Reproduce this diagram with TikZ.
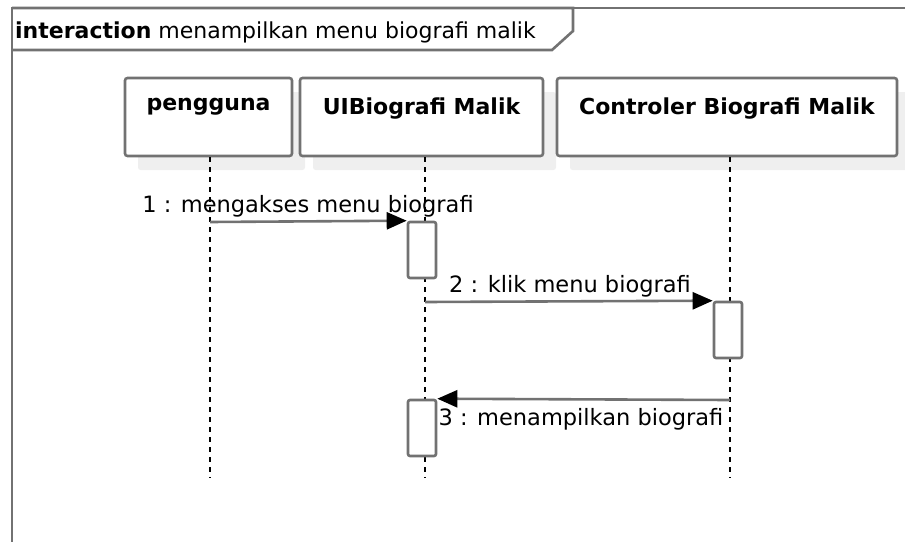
\documentclass[tikz,border=0pt]{standalone}
\usepackage{fontspec}
\setmainfont{DejaVu Sans}
\usetikzlibrary{arrows.meta,shadows}
\definecolor{lineg}{HTML}{727272}
\definecolor{shadowg}{HTML}{EFEFEF}
\tikzset{
  framel/.style={draw=lineg, line width=2.6pt},
  headbox/.style={draw=lineg, line width=2.6pt, fill=white, rounded corners=2.5pt,
    inner sep=0pt, drop shadow={shadow xshift=13pt, shadow yshift=-14pt, fill=shadowg, opacity=1}},
  headtext/.style={font=\fontsize{22}{26}\selectfont\bfseries, anchor=north, inner sep=0pt},
  lifeline/.style={draw=black, line width=1.8pt, dash pattern=on 5pt off 5pt},
  actbox/.style={draw=lineg, line width=2.6pt, fill=white, rounded corners=2pt,
    minimum width=28pt, minimum height=56pt, inner sep=0pt},
  msg/.style={draw=lineg, line width=2.6pt, -{Triangle[length=20pt,width=17pt,color=black]}},
  msgtext/.style={font=\fontsize{22.5}{26}\selectfont, inner sep=0pt},
}
\begin{document}
\begin{tikzpicture}[x=1pt,y=-1pt]
\useasboundingbox (0,0) rectangle (905,541);
% frame
\draw[framel] (12,545) -- (12,8) -- (910,8);
\draw[framel] (12,8) -- (573,8) -- (573,31) -- (552,50) -- (12,50);
\node[anchor=base west, inner sep=0pt, font=\fontsize{22}{26}\selectfont] (title) at (15,38)
  {\textbf{interaction} menampilkan menu biografi malik};
% lifeline heads
\node[headbox, minimum width=167pt, minimum height=78pt] (pg) at (208.5,117) {};
\node[headbox, minimum width=243pt, minimum height=78pt] (ui) at (421.5,117) {};
\node[headbox, minimum width=340pt, minimum height=78pt] (ct) at (727,117) {};
\node[headtext] (pgt) at ([yshift=-21pt]pg.north) {pengguna};
\node[headtext] (uit) at ([yshift=-21pt]ui.north) {UIBiografi Malik};
\node[headtext] (ctt) at ([yshift=-21pt]ct.north) {Controler Biografi Malik};
% lifelines
\coordinate (pgEnd) at (210,478);
\coordinate (uiEnd) at (425,478);
\coordinate (ctEnd) at (730,478);
\draw[lifeline] (pg.south -| pgEnd) -- (pgEnd);
\draw[lifeline] (ui.south -| uiEnd) -- (uiEnd);
\draw[lifeline] (ct.south -| ctEnd) -- (ctEnd);
% activations
\node[actbox] (a1) at (422,250) {};
\node[actbox] (a2) at (728,330) {};
\node[actbox] (a3) at (422,428) {};
% messages
\coordinate (m1s) at (210,222);
\coordinate (m2s) at (425,302);
\coordinate (m3s) at (730,400);
\draw[msg] (m1s) -- (a1.north west);
\draw[msg] (m2s) -- (a2.north west);
\draw[msg] (m3s) -- (a3.north east);
\node[msgtext, anchor=base] (l1) at (308,212) {1 : mengakses menu biografi};
\node[msgtext, anchor=base] (l2) at (570,292) {2 : klik menu biografi};
\node[msgtext, anchor=base] (l3) at (581,425) {3 : menampilkan biografi};
\end{tikzpicture}
\end{document}
